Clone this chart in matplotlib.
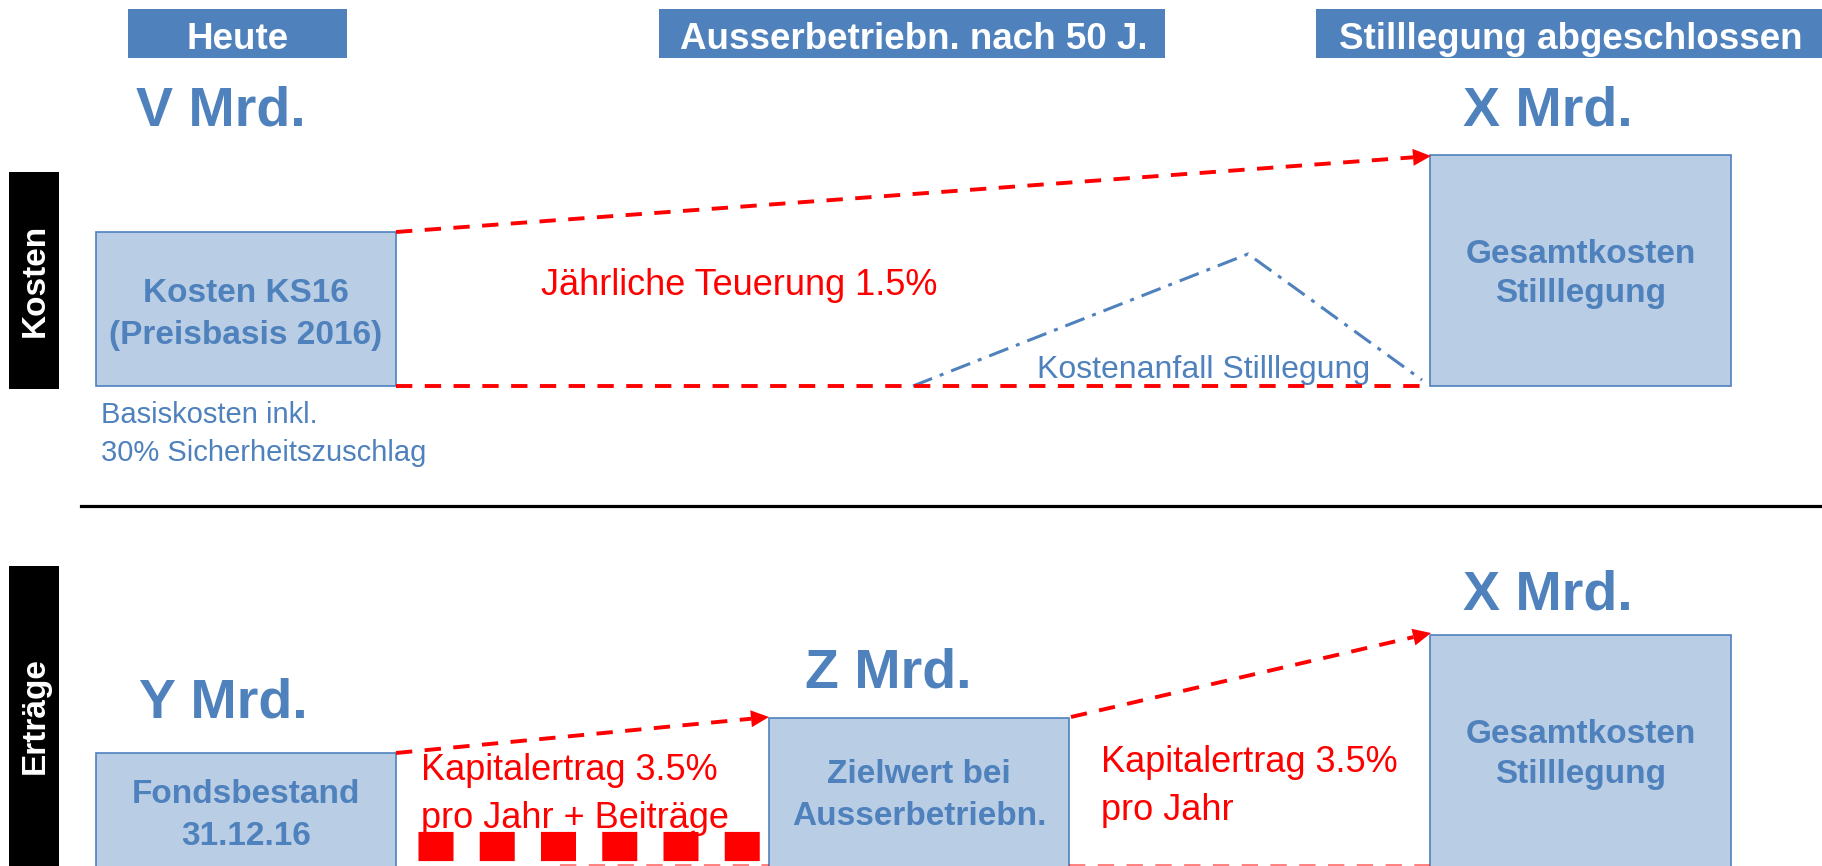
import numpy as np
import matplotlib.pyplot as plt
from matplotlib.patches import Rectangle, Polygon

plt.rcParams["font.family"] = ["Liberation Sans", "DejaVu Sans"]

BLUE = "#4F81BD"
FILL = "#B9CDE4"
RED = "#FF0000"

# header bars on top
header_labels = ["Heute", "Ausserbetriebn. nach 50 J.", "Stilllegung abgeschlossen"]
header_left = [128, 659, 1316]
header_right = [347, 1165, 1822]
header_text_x = [238, 914, 1571]

# light blue boxes (two text lines each)
box_line1 = ["Kosten KS16", "Gesamtkosten", "Fondsbestand", "Zielwert bei", "Gesamtkosten"]
box_line2 = ["(Preisbasis 2016)", "Stilllegung", "31.12.16", "Ausserbetriebn.", "Stilllegung"]
box_x0 = [96, 1430, 96, 769, 1430]
box_x1 = [396, 1731, 396, 1069, 1731]
box_y0 = [232, 155, 753, 718, 635]
box_y1 = [386, 386, 880, 880, 880]
box_base1 = [302, 263, 803, 783, 743]
box_base2 = [344, 302, 845, 825, 783]

# amounts above the boxes
amount_labels = ["V Mrd.", "X Mrd.", "Y Mrd.", "Z Mrd.", "X Mrd."]
amount_x = [136, 1463, 139, 805, 1463]
amount_y = [126, 125, 718, 688, 609]

# side labels
side_labels = ["Kosten", "Erträge"]
side_y0 = [172, 566]
side_y1 = [389, 866]

fig = plt.figure(figsize=(18.22, 8.66), dpi=100)
ax = fig.add_axes([0, 0, 1, 1])
ax.set_xlim(0, 1822)
ax.set_ylim(866, 0)
ax.axis("off")

dash = (0, (4.2, 3.2))
LW = 2.8


def red_arrow(x0, y0, x1, y1, head=True):
    d = np.array([x1 - x0, y1 - y0], float)
    u = d / np.hypot(*d)
    n = np.array([-u[1], u[0]])
    end = np.array([x1, y1], float)
    if head:
        end = end - u * 18
        tri = [(x1, y1), end + n * 8.5, end - n * 8.5]
        ax.add_patch(Polygon(tri, closed=True, color=RED, lw=0, zorder=4))
    ax.plot([x0, end[0]], [y0, end[1]], color=RED, lw=LW, ls=dash,
            dash_capstyle="butt", zorder=4)


# header bars
for lab, l, r, tx in zip(header_labels, header_left, header_right, header_text_x):
    ax.add_patch(Rectangle((l, 9), r - l, 49, color=BLUE, lw=0))
    ax.text(tx, 49, lab, color="white", fontsize=26.5, fontweight="bold",
            ha="center", va="baseline")

# side labels
for lab, y0, y1 in zip(side_labels, side_y0, side_y1):
    ax.add_patch(Rectangle((9, y0), 50, y1 - y0, color="black", lw=0))
    ax.text(35, (y0 + y1) / 2, lab, color="white", fontsize=24, fontweight="bold",
            rotation=90, ha="center", va="center")

# separator
ax.plot([81, 1822], [506, 506], color="black", lw=2.3)

# boxes
for i in range(len(box_line1)):
    ax.add_patch(Rectangle((box_x0[i], box_y0[i]), box_x1[i] - box_x0[i],
                           box_y1[i] - box_y0[i], facecolor=FILL, edgecolor=BLUE,
                           lw=1.2, zorder=2))
    cx = (box_x0[i] + box_x1[i]) / 2
    ax.text(cx, box_base1[i], box_line1[i], color=BLUE, fontsize=24,
            fontweight="bold", ha="center", va="baseline", zorder=3)
    ax.text(cx, box_base2[i], box_line2[i], color=BLUE, fontsize=24,
            fontweight="bold", ha="center", va="baseline", zorder=3)

for lab, x, y in zip(amount_labels, amount_x, amount_y):
    ax.text(x, y, lab, color=BLUE, fontsize=40, fontweight="bold",
            ha="left", va="baseline")

# costs section
red_arrow(396, 232, 1431, 156)
red_arrow(396, 386, 1430, 386, head=False)
ax.plot([913, 1248, 1422], [386, 254, 380], color=BLUE, lw=2.2,
        ls=(0, (6.7, 2.7, 1.3, 2.7)), zorder=3)
ax.text(541, 295, "Jährliche Teuerung 1.5%", color=RED, fontsize=26,
        ha="left", va="baseline")
ax.text(1037, 378, "Kostenanfall Stilllegung", color=BLUE, fontsize=23,
        ha="left", va="baseline")
ax.text(101, 423, "Basiskosten inkl.", color=BLUE, fontsize=21,
        ha="left", va="baseline")
ax.text(101, 461, "30% Sicherheitszuschlag", color=BLUE, fontsize=21,
        ha="left", va="baseline")

# revenue section
red_arrow(396, 753, 769, 717)
red_arrow(1071, 717, 1431, 633)
ax.plot([418, 760], [846, 846], color=RED, lw=21, ls=(0, (1.2, 0.9)),
        dash_capstyle="butt", zorder=4)
ax.plot([560, 769], [866, 866], color=RED, lw=LW, ls=dash, alpha=0.5,
        dash_capstyle="butt")
ax.plot([1069, 1430], [866, 866], color=RED, lw=LW, ls=dash, alpha=0.5,
        dash_capstyle="butt")
ax.text(421, 780, "Kapitalertrag 3.5%", color=RED, fontsize=26,
        ha="left", va="baseline", zorder=5)
ax.text(421, 828, "pro Jahr + Beiträge", color=RED, fontsize=26,
        ha="left", va="baseline", zorder=3)
ax.text(1101, 772, "Kapitalertrag 3.5%", color=RED, fontsize=26,
        ha="left", va="baseline")
ax.text(1101, 820, "pro Jahr", color=RED, fontsize=26,
        ha="left", va="baseline")

fig.savefig("out.png", dpi=100)
